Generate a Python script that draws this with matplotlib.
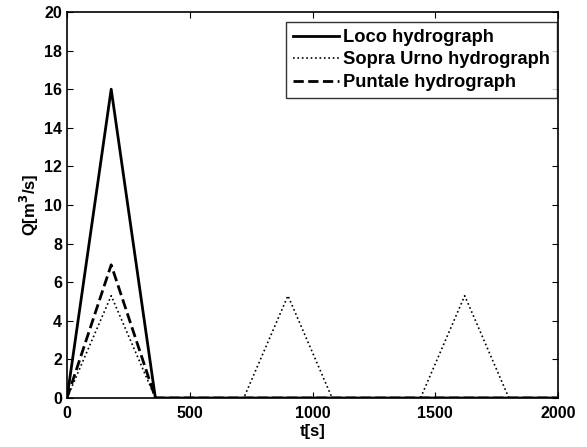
import matplotlib

matplotlib.use("Agg")
import matplotlib.pyplot as plt  # noqa: E402

plt.rcParams["font.family"] = ["Liberation Sans", "DejaVu Sans"]
plt.rcParams["font.weight"] = "bold"

# 流量ハイドログラフ（三角形）
t_loco = [0, 180, 360, 2000]
q_loco = [0, 16, 0, 0]

t_sopra = [0, 180, 360, 720, 900, 1080, 1440, 1620, 1800, 2000]
q_sopra = [0, 5.3, 0, 0, 5.3, 0, 0, 5.3, 0, 0]

t_puntale = [0, 180, 360, 2000]
q_puntale = [0, 6.9, 0, 0]

fig = plt.figure(figsize=(5.87, 4.47), dpi=100)
ax = fig.add_axes([67 / 587, 49 / 447, 491 / 587, 386 / 447])

ax.plot(t_loco, q_loco, "k-", lw=2, label="Loco hydrograph")
ax.plot(t_sopra, q_sopra, "k:", lw=1.2, label="Sopra Urno hydrograph")
ax.plot(t_puntale, q_puntale, "k--", lw=2, label="Puntale hydrograph")

ax.set_xlim(0, 2000)
ax.set_ylim(0, 20)
ax.set_xticks(range(0, 2001, 500))
ax.set_yticks(range(0, 21, 2))
ax.tick_params(direction="in", top=True, right=True, labelsize=11.5, length=4)
ax.tick_params(axis="x", pad=6)
for lab in ax.get_xticklabels() + ax.get_yticklabels():
    lab.set_fontweight("bold")
for sp in ax.spines.values():
    sp.set_linewidth(1.2)

ax.set_xlabel("t[s]", fontsize=12, fontweight="bold", labelpad=2)
ax.set_ylabel("Q[m$^3$/s]", fontsize=12, fontweight="bold", labelpad=2)

leg = ax.legend(loc="upper right", fontsize=13.2, frameon=True, fancybox=False,
                edgecolor="black", handlelength=2.5, borderpad=0.4,
                labelspacing=0.3, handletextpad=0.2, borderaxespad=0,
                bbox_to_anchor=(0.998, 0.975))
leg.get_frame().set_linewidth(1.0)
for txt in leg.get_texts():
    txt.set_fontweight("bold")

fig.savefig("out.png", dpi=100)
